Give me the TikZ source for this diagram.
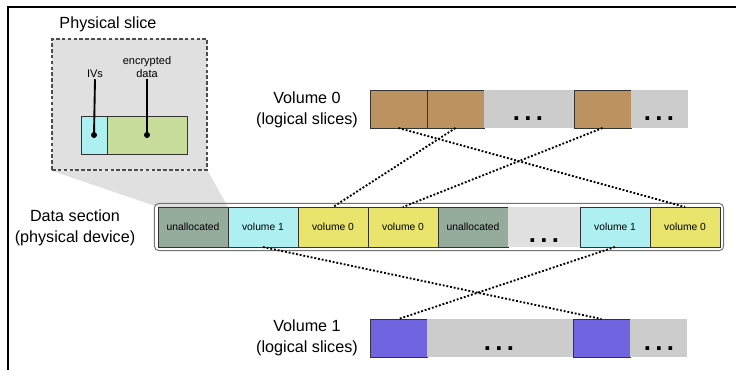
\documentclass[tikz,border=0pt]{standalone}
\usepackage{fontspec}
\setmainfont{Liberation Sans}
\usepackage{xcolor}
\usepackage{tikz}
\usetikzlibrary{
    positioning,
    fit,
    backgrounds
}
\definecolor{unalloc}{RGB}{149,171,156}
\definecolor{volone}{RGB}{174,240,242}
\definecolor{volzero}{RGB}{232,228,108}
\definecolor{brownzero}{RGB}{188,146,96}
\definecolor{purpleone}{RGB}{112,100,224}
\definecolor{encgreen}{RGB}{200,220,156}
\definecolor{midgray}{RGB}{204,204,204}
\definecolor{lightgray}{RGB}{224,224,224}
\tikzstyle{cell} = [
    rectangle, draw=black!80,
    line width=0.6pt,
    inner sep=0pt, outer sep=0pt,
    minimum width=2.1cm,
    minimum height=1.2cm,
    font=\fontsize{8.8}{11}\selectfont
]
\tikzstyle{lcell} = [
    rectangle, draw=black!80,
    line width=0.6pt,
    inner sep=0pt, outer sep=0pt,
    minimum width=1.71cm,
    minimum height=1.14cm
]
\tikzstyle{gap} = [
    rectangle, fill=midgray,
    inner sep=0pt, outer sep=0pt,
    minimum height=1.14cm
]
\tikzstyle{lbl} = [
    align=center,
    font=\fontsize{13.8}{18}\selectfont
]
\tikzstyle{small} = [
    align=center, inner sep=1pt,
    font=\fontsize{9.4}{11.5}\selectfont
]
\tikzstyle{ellip} = [
    inner sep=0pt,
    font=\fontsize{22}{22}\selectfont\bfseries
]
\tikzstyle{slicebox} = [
    rectangle, draw=black!70,
    line width=1pt,
    dash pattern=on 3pt off 2pt,
    fill=lightgray
]
\tikzstyle{section} = [
    rectangle, draw=black!55,
    line width=0.8pt,
    rounded corners=4pt,
    inner sep=0.11cm
]
\tikzstyle{link} = [
    line width=1.6pt,
    dash pattern=on 1.6pt off 1.6pt
]
\tikzstyle{pin} = [
    line width=1.6pt
]

\begin{document}
\begin{tikzpicture}[x=0.03cm, y=-0.03cm]
    \useasboundingbox (0,0) rectangle (736,370);
    \draw[line width=1.1pt] (736,7) -- (8,7) -- (8,370);

    \node[lbl] (pslbl) at (108,24) {Physical slice};
    \node[slicebox, minimum width=4.65cm, minimum height=3.93cm] (pbox) at (129.5,104.5) {};
    \node[lcell, fill=volone, minimum width=0.78cm] (iv) at (94,135) {};
    \node[lcell, fill=encgreen, minimum width=2.4cm, right=0pt of iv] (enc) {};
    \node[small] (ivlbl) at (95,74) {IVs};
    \node[small] (enclbl) at (147,67) {encrypted\\data};
    \draw[pin] (ivlbl.south) -- (iv.center);
    \draw[pin] (enclbl.south) -- (enc.center);
    \fill (iv.center) circle (3);
    \fill (enc.center) circle (3);

    \node[lbl] (dslbl) at (75,228) {Data section\\(physical device)};
    \node[cell, fill=unalloc] (d1) at (193,227) {unallocated};
    \node[cell, fill=volone, right=0pt of d1] (d2) {volume 1};
    \node[cell, fill=volzero, right=0pt of d2] (d3) {volume 0};
    \node[cell, fill=volzero, right=0pt of d3] (d4) {volume 0};
    \node[cell, fill=unalloc, right=0pt of d4] (d5) {unallocated};
    \node[cell, draw=none, fill=lightgray, minimum width=2.16cm, right=0pt of d5] (d6) {};
    \node[cell, fill=volone, right=0pt of d6] (d7) {volume 1};
    \node[cell, fill=volzero, right=0pt of d7] (d8) {volume 0};
    \node[ellip] (d6dots) at (544,241) {.\,.\,.};
    \node[section, fit=(d1)(d8)] (sect) {};

    \begin{scope}[on background layer]
        \fill[lightgray] (pbox.south west) -- (pbox.south east) -- (d1.north east) -- (d1.north west) -- cycle;
    \end{scope}

    \node[lbl] (v0lbl) at (307,110) {Volume 0\\(logical slices)};
    \node[lcell, fill=brownzero] (a1) at (398.5,109) {};
    \node[lcell, fill=brownzero, right=0pt of a1] (a2) {};
    \node[gap, minimum width=2.7cm, right=0pt of a2] (a3) {};
    \node[lcell, fill=brownzero, right=0pt of a3] (a4) {};
    \node[gap, minimum width=1.71cm, right=0pt of a4] (a5) {};
    \node[ellip] (a3dots) at (528,119) {.\,.\,.};
    \node[ellip] (a5dots) at (659,119) {.\,.\,.};

    \node[lbl] (v1lbl) at (307,338) {Volume 1\\(logical slices)};
    \node[lcell, fill=purpleone] (b1) at (398.5,338) {};
    \node[gap, minimum width=4.38cm, right=0pt of b1] (b2) {};
    \node[lcell, fill=purpleone, right=0pt of b2] (b3) {};
    \node[gap, minimum width=1.71cm, right=0pt of b3] (b4) {};
    \node[ellip] (b2dots) at (499,349) {.\,.\,.};
    \node[ellip] (b4dots) at (659,349) {.\,.\,.};

    \draw[link] (a1.south) -- (d8.north);
    \draw[link] (a2.south) -- (d3.north);
    \draw[link] (a4.south) -- (d4.north);
    \draw[link] (d2.south) -- (b3.north);
    \draw[link] (d7.south) -- (b1.north);
\end{tikzpicture}
\end{document}
